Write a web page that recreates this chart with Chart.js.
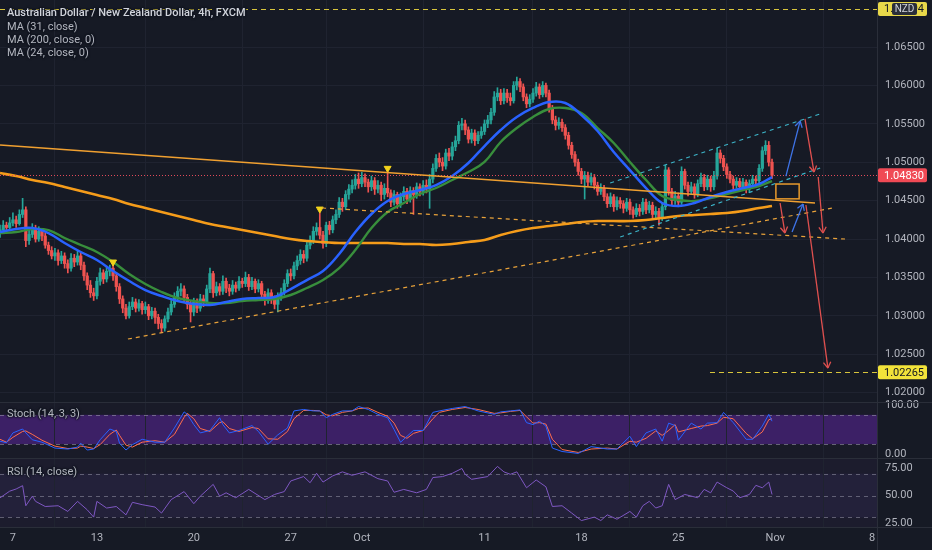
<!DOCTYPE html>
<html><head><meta charset="utf-8">
<script src="https://cdn.jsdelivr.net/npm/chart.js@4.4.1/dist/chart.umd.min.js"></script>
<style>
html,body{margin:0;padding:0;background:#161a25;overflow:hidden}
#wrap{position:relative;width:932px;height:550px}
canvas{position:absolute;left:0;top:0}
.lg{position:absolute;left:7px;font-family:Roboto,"DejaVu Sans",sans-serif;font-size:11px;color:#b2b5be;white-space:nowrap;line-height:13px;
text-shadow:0 0 2px #161a25,0 0 2px #161a25,0 0 3px #161a25,1px 0 1px #161a25,-1px 0 1px #161a25}
</style></head><body>
<div id="wrap"><canvas id="c" width="932" height="550"></canvas>
<div class="lg" style="top:6px;color:#d1d4dc;font-weight:500">Australian Dollar / New Zealand Dollar, 4h, FXCM</div>
<div class="lg" style="top:20px">MA (31, close)</div>
<div class="lg" style="top:33px">MA (200, close, 0)</div>
<div class="lg" style="top:46px">MA (24, close, 0)</div>
<div class="lg" style="top:407px">Stoch (14, 3, 3)</div>
<div class="lg" style="top:465px">RSI (14, close)</div>
</div>
<script>
// ---------- DATA ----------
const firstOpen = 1.0408;
const closes = [
1.0412,1.0418,1.0415,1.0421,1.0425,1.0420,1.0432,1.0438,1.0398,1.0406,
1.0414,1.0400,1.0410,1.0404,1.0392,1.0385,1.0378,1.0382,1.0372,1.0378,
1.0368,1.0362,1.0375,1.0370,1.0378,1.0366,1.0352,1.0340,1.0330,1.0326,
1.0345,1.0356,1.0348,1.0358,1.0362,1.0352,1.0338,1.0322,1.0310,1.0300,
1.0312,1.0318,1.0310,1.0316,1.0308,1.0312,1.0300,1.0306,1.0298,1.0290,
1.0284,1.0296,1.0305,1.0315,1.0325,1.0332,1.0335,1.0324,1.0315,1.0305,
1.0318,1.0310,1.0322,1.0318,1.0335,1.0355,1.0330,1.0338,1.0332,1.0345,
1.0336,1.0332,1.0340,1.0336,1.0345,1.0342,1.0350,1.0338,1.0345,1.0335,
1.0342,1.0328,1.0320,1.0330,1.0322,1.0315,1.0325,1.0330,1.0342,1.0355,
1.0352,1.0365,1.0372,1.0380,1.0375,1.0392,1.0398,1.0410,1.0415,1.0405,
1.0394,1.0418,1.0412,1.0425,1.0432,1.0448,1.0442,1.0458,1.0465,1.0470,
1.0478,1.0472,1.0480,1.0474,1.0468,1.0476,1.0465,1.0470,1.0458,1.0466,
1.0460,1.0448,1.0458,1.0446,1.0455,1.0462,1.0452,1.0463,1.0458,1.0468,
1.0462,1.0470,1.0465,1.0478,1.0492,1.0505,1.0500,1.0495,1.0512,1.0508,
1.0520,1.0528,1.0548,1.0550,1.0542,1.0530,1.0538,1.0528,1.0535,1.0540,
1.0550,1.0555,1.0565,1.0585,1.0590,1.0580,1.0590,1.0584,1.0580,1.0600,
1.0605,1.0598,1.0585,1.0576,1.0582,1.0590,1.0598,1.0588,1.0600,1.0590,
1.0570,1.0555,1.0548,1.0552,1.0545,1.0535,1.0522,1.0510,1.0500,1.0488,
1.0478,1.0483,1.0474,1.0480,1.0470,1.0462,1.0466,1.0455,1.0446,1.0455,
1.0442,1.0450,1.0446,1.0440,1.0448,1.0438,1.0432,1.0440,1.0436,1.0448,
1.0438,1.0444,1.0432,1.0436,1.0428,1.0442,1.0490,1.0462,1.0450,1.0456,
1.0448,1.0488,1.0470,1.0462,1.0468,1.0458,1.0472,1.0480,1.0468,1.0478,
1.0468,1.0482,1.0512,1.0505,1.0494,1.0484,1.0478,1.0470,1.0475,1.0468,
1.0474,1.0465,1.0472,1.0478,1.0476,1.0492,1.0515,1.0522,1.0500,1.0483];
const highs = [
1.0418,1.0424,1.0422,1.0428,1.0434,1.0430,1.0438,1.0453,1.0442,1.0414,
1.0420,1.0418,1.0416,1.0413,1.0408,1.0396,1.0390,1.0388,1.0386,1.0384,
1.0382,1.0373,1.0381,1.0380,1.0384,1.0382,1.0370,1.0356,1.0346,1.0336,
1.0350,1.0362,1.0360,1.0363,1.0366,1.0368,1.0356,1.0342,1.0326,1.0315,
1.0318,1.0324,1.0322,1.0321,1.0319,1.0318,1.0315,1.0311,1.0310,1.0302,
1.0295,1.0300,1.0310,1.0320,1.0330,1.0338,1.0342,1.0339,1.0328,1.0319,
1.0323,1.0322,1.0328,1.0327,1.0340,1.0362,1.0358,1.0344,1.0342,1.0352,
1.0349,1.0341,1.0346,1.0344,1.0351,1.0349,1.0357,1.0354,1.0350,1.0348,
1.0347,1.0345,1.0332,1.0335,1.0334,1.0326,1.0330,1.0336,1.0347,1.0360,
1.0361,1.0370,1.0378,1.0386,1.0385,1.0398,1.0404,1.0416,1.0421,1.0434,
1.0410,1.0422,1.0423,1.0430,1.0438,1.0454,1.0453,1.0463,1.0471,1.0477,
1.0484,1.0486,1.0487,1.0485,1.0478,1.0482,1.0480,1.0476,1.0474,1.0472,
1.0489,1.0464,1.0463,1.0461,1.0460,1.0468,1.0466,1.0468,1.0467,1.0473,
1.0472,1.0476,1.0477,1.0484,1.0498,1.0510,1.0512,1.0506,1.0517,1.0518,
1.0526,1.0534,1.0553,1.0557,1.0555,1.0546,1.0543,1.0542,1.0540,1.0546,
1.0555,1.0561,1.0570,1.0592,1.0597,1.0595,1.0596,1.0595,1.0590,1.0605,
1.0611,1.0609,1.0602,1.0589,1.0588,1.0596,1.0604,1.0602,1.0605,1.0603,
1.0594,1.0574,1.0560,1.0558,1.0556,1.0549,1.0539,1.0526,1.0514,1.0504,
1.0492,1.0488,1.0487,1.0486,1.0484,1.0474,1.0472,1.0470,1.0459,1.0460,
1.0458,1.0455,1.0454,1.0450,1.0453,1.0452,1.0442,1.0446,1.0445,1.0453,
1.0452,1.0449,1.0448,1.0442,1.0440,1.0447,1.0496,1.0493,1.0466,1.0462,
1.0460,1.0494,1.0491,1.0474,1.0474,1.0472,1.0477,1.0486,1.0484,1.0483,
1.0482,1.0488,1.0518,1.0516,1.0509,1.0498,1.0488,1.0482,1.0480,1.0479,
1.0479,1.0477,1.0477,1.0483,1.0482,1.0497,1.0520,1.0528,1.0527,1.0504];
const lows = [
1.0402,1.0409,1.0410,1.0412,1.0417,1.0415,1.0418,1.0428,1.0390,1.0393,
1.0402,1.0396,1.0397,1.0398,1.0388,1.0380,1.0374,1.0372,1.0366,1.0368,
1.0362,1.0356,1.0358,1.0364,1.0366,1.0360,1.0346,1.0334,1.0324,1.0320,
1.0322,1.0340,1.0342,1.0344,1.0352,1.0346,1.0332,1.0316,1.0304,1.0296,
1.0297,1.0308,1.0305,1.0306,1.0302,1.0303,1.0295,1.0296,1.0290,1.0283,
1.0278,1.0280,1.0292,1.0301,1.0311,1.0320,1.0326,1.0318,1.0309,1.0292,
1.0300,1.0304,1.0306,1.0312,1.0314,1.0330,1.0324,1.0326,1.0327,1.0328,
1.0330,1.0326,1.0328,1.0331,1.0333,1.0337,1.0338,1.0333,1.0334,1.0330,
1.0331,1.0322,1.0314,1.0316,1.0316,1.0309,1.0305,1.0320,1.0327,1.0338,
1.0346,1.0348,1.0360,1.0367,1.0369,1.0371,1.0387,1.0394,1.0405,1.0400,
1.0388,1.0390,1.0406,1.0408,1.0420,1.0428,1.0436,1.0438,1.0452,1.0460,
1.0465,1.0466,1.0468,1.0468,1.0461,1.0463,1.0458,1.0460,1.0450,1.0452,
1.0455,1.0442,1.0444,1.0440,1.0441,1.0450,1.0446,1.0448,1.0432,1.0453,
1.0456,1.0457,1.0460,1.0440,1.0473,1.0488,1.0494,1.0489,1.0491,1.0502,
1.0503,1.0515,1.0524,1.0542,1.0536,1.0525,1.0525,1.0522,1.0524,1.0531,
1.0536,1.0545,1.0550,1.0561,1.0580,1.0575,1.0576,1.0578,1.0574,1.0577,
1.0594,1.0592,1.0580,1.0571,1.0572,1.0578,1.0586,1.0583,1.0585,1.0585,
1.0565,1.0550,1.0542,1.0543,1.0540,1.0530,1.0517,1.0505,1.0495,1.0483,
1.0472,1.0452,1.0469,1.0470,1.0465,1.0457,1.0458,1.0450,1.0441,1.0442,
1.0436,1.0438,1.0440,1.0434,1.0436,1.0432,1.0427,1.0429,1.0430,1.0432,
1.0433,1.0434,1.0427,1.0426,1.0418,1.0424,1.0438,1.0457,1.0444,1.0445,
1.0442,1.0445,1.0465,1.0456,1.0458,1.0453,1.0455,1.0468,1.0463,1.0464,
1.0462,1.0464,1.0478,1.0499,1.0489,1.0479,1.0473,1.0465,1.0466,1.0463,
1.0464,1.0460,1.0461,1.0468,1.0470,1.0472,1.0488,1.0510,1.0495,1.0479];

const maIdx = [0,5,10,15,20,25,30,35,40,45,50,55,60,65,70,75,80,85,90,95,100,105,110,115,120,125,130,135,140,145,150,155,160,165,170,175,180,185,190,195,200,205,210,215,220,225,230,235,239];
const ma24 = [1.04091,1.04130,1.04143,1.04078,1.03948,1.03831,1.03727,1.03583,1.03453,1.03336,1.03258,1.03193,1.03154,1.03141,1.03180,1.03219,1.03232,1.03245,1.03349,1.03466,1.03583,1.03805,1.04091,1.04326,1.04495,1.04586,1.04638,1.04703,1.04820,1.04990,1.05211,1.05419,1.05589,1.05706,1.05784,1.05771,1.05615,1.05406,1.05133,1.04898,1.04664,1.04469,1.04430,1.04469,1.04547,1.04612,1.04664,1.04716,1.04807];
const ma31 = [1.04078,1.04091,1.04130,1.04117,1.04013,1.03922,1.03831,1.03701,1.03544,1.03414,1.03310,1.03232,1.03193,1.03167,1.03167,1.03193,1.03206,1.03219,1.03271,1.03362,1.03466,1.03622,1.03857,1.04143,1.04352,1.04469,1.04586,1.04664,1.04768,1.04872,1.05003,1.05263,1.05445,1.05589,1.05693,1.05706,1.05641,1.05445,1.05250,1.05003,1.04768,1.04560,1.04508,1.04495,1.04534,1.04586,1.04638,1.04690,1.04755];
const ma200 = [1.04859,1.04820,1.04768,1.04729,1.04677,1.04625,1.04573,1.04521,1.04456,1.04404,1.04352,1.04299,1.04247,1.04195,1.04156,1.04117,1.04078,1.04039,1.04000,1.03974,1.03961,1.03948,1.03948,1.03948,1.03948,1.03935,1.03935,1.03922,1.03935,1.03961,1.03987,1.04052,1.04104,1.04143,1.04169,1.04195,1.04221,1.04234,1.04234,1.04234,1.04247,1.04273,1.04299,1.04313,1.04326,1.04339,1.04365,1.04404,1.04430];

const stochIdx = [0,2,4,7,8,10,13,17,21,24,25,27,29,31,34,36,37,39,41,44,48,51,54,57,58,60,62,65,68,69,71,74,78,80,83,86,89,91,94,97,99,101,103,106,109,111,114,117,120,122,124,126,128,131,134,136,140,144,148,153,155,158,161,163,165,167,169,171,174,179,183,188,191,195,197,200,203,205,207,209,210,214,217,219,222,224,227,231,233,236,238,239];
const stochK = [26,23,43,51,43,29,24,12,10,14,22,8,10,29,51,46,22,8,19,30,24,24,53,86,81,60,43,48,74,60,43,48,58,46,20,39,53,88,91,88,88,74,81,88,88,97,91,81,74,50,24,36,48,48,85,88,93,97,88,81,86,88,90,64,60,67,57,12,5,1,15,10,10,36,15,43,51,26,63,58,28,63,51,63,64,85,64,30,30,57,81,67];
const stochD = [30,24,34,46,47,40,28,16,11,12,16,14,11,19,40,49,38,18,14,24,27,24,40,75,83,72,52,46,64,66,52,46,54,52,31,30,46,72,89,89,88,80,78,85,88,93,94,85,77,63,38,32,42,48,72,85,91,95,91,83,84,87,89,76,63,64,61,30,9,3,10,12,10,26,24,32,47,38,48,60,45,52,57,58,63,75,72,42,31,45,70,72];

const rsiIdx = [0,3,5,7,8,10,11,14,18,21,24,27,29,30,33,36,39,41,44,48,50,53,57,60,62,66,68,70,73,77,82,85,88,90,94,96,98,100,103,106,109,113,117,120,122,125,129,132,134,137,140,143,144,146,151,154,156,158,160,163,166,169,171,174,177,180,184,186,188,191,195,197,199,201,203,205,207,209,212,216,218,220,222,225,227,229,232,234,236,238,239];
const rsiVals = [47.9,54,56,59,40.7,49.4,44.7,40,40.7,35.5,44.7,37,30.3,44.7,38.6,40,32.4,43.8,41.7,39.5,34,46.3,53.6,42.6,49.4,60.2,49.4,52.5,48,55.6,46.3,51,53.6,63.3,67.3,61.7,70.3,62.3,67.9,71.6,68.5,71.6,65.4,63.3,53,55.6,52.5,55.6,66.4,67.3,70.3,74.7,69.4,64.8,67.3,76.6,71.6,69.4,71.6,57.1,64.2,58,40,40.7,34,27.2,30.3,27.2,32.4,28.4,35.5,30.3,40.7,44.7,38.6,40.7,60.2,46.3,51,48,55.6,52.5,62.3,57.1,54.1,48,51,59.3,57.1,62.3,51];

const tickIdx = [4,30,60,90,112,150,180,210,240,270];
const tickLabels = ['7','13','20','27','Oct','11','18','25','Nov','8'];
const priceTicks = [1.020,1.025,1.030,1.035,1.040,1.045,1.050,1.055,1.060,1.065];
const stochTicks = [0,50,100];
const rsiTicks = [25,50,75];
const stochLevels = [80,20];
const rsiLevels = [70,50,30];

const triIdx = [35,99,120];
const triVals = [1.0370,1.0439,1.0492];

const lastPrice = 1.04830;
const topLevel = 1.06994;
const targetLevel = 1.02265;
const targetStartIdx = 219.8;
// drawings: [idx1, price1, idx2, price2]
const trendSolid = [0,1.05224,252.3,1.04469];
const trendDashA = [39.6,1.02698,257.9,1.04404];
const trendDashB = [99.7,1.04404,261.6,1.04000];
const channelUp = [188.9,1.04729,253.9,1.05628];
const channelLo = [192,1.04026,253.9,1.04924];
const zoneBox = [240.2,1.04716,247.4,1.04523];
const blueArrows = [[243.3,1.04820,247.7,1.05536],[245.2,1.04091,248.6,1.04456]];
const redArrows = [[249.2,1.05563,252,1.04872],[253.3,1.04807,254.8,1.04078],[249.5,1.04443,256.3,1.02320],[241.5,1.04469,243,1.04078]];

// ---------- CHART ----------
const opens = closes.map((c,i)=> i===0 ? firstOpen : closes[i-1]);
const UP='#26a69a', DN='#ef5350';
const candleCol = closes.map((c,i)=> c>=opens[i] ? UP : DN);
Chart.defaults.font.family = 'Roboto, "DejaVu Sans", sans-serif';

function seg(ctx,x1,y1,x2,y2,color,w,dash){
  ctx.beginPath(); ctx.setLineDash(dash||[]); ctx.strokeStyle=color; ctx.lineWidth=w;
  ctx.moveTo(x1,y1); ctx.lineTo(x2,y2); ctx.stroke(); ctx.setLineDash([]);
}
function arrow(ctx,x1,y1,x2,y2,color){
  seg(ctx,x1,y1,x2,y2,color,1.3);
  const a=Math.atan2(y2-y1,x2-x1);
  for(const s of [-1,1]){
    const b=a+Math.PI+s*0.55;
    seg(ctx,x2,y2,x2+7*Math.cos(b),y2+7*Math.sin(b),color,1.3);
  }
}
function tag(ctx,y,bg,fg,text){
  ctx.fillStyle=bg; ctx.beginPath(); ctx.roundRect(878,y-7,49,14,2); ctx.fill();
  ctx.fillStyle=fg; ctx.font='11px Roboto, "DejaVu Sans", sans-serif'; ctx.textAlign='left'; ctx.textBaseline='middle';
  ctx.fillText(text,884,y+0.5);
}

const panes = {
  id:'panes',
  beforeDraw(chart){
    const {ctx, chartArea:ca, scales} = chart;
    const yS=scales.yS, yR=scales.yR;
    ctx.save();
    ctx.fillStyle='#161a25'; ctx.fillRect(0,0,chart.width,chart.height);
    ctx.fillStyle='#191b28'; ctx.fillRect(ca.left,yS.top,ca.right-ca.left,yS.bottom-yS.top);
    const t=yS.getPixelForValue(stochLevels[0]), b=yS.getPixelForValue(stochLevels[1]);
    ctx.fillStyle='#3c2066'; ctx.fillRect(ca.left,t,ca.right-ca.left,b-t);
    ctx.fillStyle='#1c1c2d'; ctx.fillRect(ca.left,yR.top,ca.right-ca.left,yR.bottom-yR.top);
    const t2=yR.getPixelForValue(rsiLevels[0]), b2=yR.getPixelForValue(rsiLevels[2]);
    ctx.fillStyle='#23213a'; ctx.fillRect(ca.left,t2,ca.right-ca.left,b2-t2);
    ctx.restore();
  },
  beforeDatasetsDraw(chart){
    const {ctx, chartArea:ca, scales} = chart;
    const yS=scales.yS, yR=scales.yR;
    ctx.save();
    for(const v of stochLevels){const y=Math.round(yS.getPixelForValue(v))+0.5; seg(ctx,ca.left,y,ca.right,y,'rgba(160,160,175,0.55)',1,[4,4]);}
    for(const v of rsiLevels){const y=Math.round(yR.getPixelForValue(v))+0.5; seg(ctx,ca.left,y,ca.right,y,'rgba(160,160,175,0.5)',1,[4,4]);}
    ctx.restore();
  },
  afterDatasetsDraw(chart){
    const {ctx, chartArea:ca, scales} = chart;
    const xs=scales.x, ys=scales.y;
    const X=v=>xs.getPixelForValue(v), Y=v=>ys.getPixelForValue(v);
    ctx.save();
    ctx.beginPath(); ctx.rect(ca.left,ys.top,ca.right-ca.left,ys.bottom-ys.top); ctx.clip();
    let y=Math.round(Y(topLevel))+0.5; seg(ctx,ca.left,y,ca.right,y,'#d8c53c',1,[5,4]);
    y=Math.round(Y(targetLevel))+0.5; seg(ctx,X(targetStartIdx),y,ca.right,y,'#d8c53c',1,[5,4]);
    y=Math.round(Y(lastPrice))+0.5; seg(ctx,ca.left,y,ca.right,y,'#e04a5a',1,[1,2]);
    const L=(d,c,w,dash)=>seg(ctx,X(d[0]),Y(d[1]),X(d[2]),Y(d[3]),c,w,dash);
    L(trendSolid,'#f0a030',1.5);
    L(trendDashA,'#e8a23a',1.2,[4,4]);
    L(trendDashB,'#e8a23a',1.2,[4,4]);
    L(channelUp,'#3cb4c8',1.2,[4,4]);
    L(channelLo,'#3cb4c8',1.2,[4,4]);
    ctx.strokeStyle='#e89a2c'; ctx.lineWidth=1.5; ctx.setLineDash([]);
    ctx.strokeRect(X(zoneBox[0]),Y(zoneBox[1]),X(zoneBox[2])-X(zoneBox[0]),Y(zoneBox[3])-Y(zoneBox[1]));
    for(const a of blueArrows) arrow(ctx,X(a[0]),Y(a[1]),X(a[2]),Y(a[3]),'#3f74e8');
    for(const a of redArrows) arrow(ctx,X(a[0]),Y(a[1]),X(a[2]),Y(a[3]),'#e0504f');
    ctx.restore();
  },
  afterDraw(chart){
    const {ctx, chartArea:ca, scales} = chart;
    const ys=scales.y, yS=scales.yS, yR=scales.yR;
    ctx.save();
    seg(ctx,0,Math.round(yS.top)+0.5,chart.width,Math.round(yS.top)+0.5,'#2a2e39',1);
    seg(ctx,0,Math.round(yR.top)+0.5,chart.width,Math.round(yR.top)+0.5,'#2a2e39',1);
    seg(ctx,ca.right+0.5,0,ca.right+0.5,chart.height,'#2a2e39',1);
    seg(ctx,0,ca.bottom+0.5,chart.width,ca.bottom+0.5,'#2a2e39',1);
    const yt=ys.getPixelForValue(topLevel);
    tag(ctx,yt,'#e8d84a','#131722',topLevel.toFixed(5));
    ctx.fillStyle='#2a2e39'; ctx.beginPath(); ctx.roundRect(892,yt-6,25,12,2); ctx.fill();
    ctx.fillStyle='#d1d4dc'; ctx.textAlign='center'; ctx.font='10px Roboto, "DejaVu Sans", sans-serif'; ctx.fillText('NZD',904.5,yt+0.5);
    tag(ctx,ys.getPixelForValue(lastPrice),'#f04a55','#ffffff',lastPrice.toFixed(5));
    tag(ctx,ys.getPixelForValue(targetLevel),'#f2e33a','#131722',targetLevel.toFixed(5));
    ctx.restore();
  }
};

const fixW = s=>{ s.width=55; s.paddingTop=0; s.paddingBottom=0; };
const tickFont = {size:11, family:'Roboto, "DejaVu Sans", sans-serif'};

new Chart(document.getElementById('c'), {
  type:'bar',
  data:{ datasets:[
    {type:'line', label:'MA24', data: maIdx.map((x,k)=>({x, y:ma24[k]})), borderColor:'#2962ff', borderWidth:2.5, pointRadius:0, tension:0.4, yAxisID:'y', order:0},
    {type:'line', label:'MA31', data: maIdx.map((x,k)=>({x, y:ma31[k]})), borderColor:'#388e3c', borderWidth:2.4, pointRadius:0, tension:0.4, yAxisID:'y', order:1},
    {type:'line', label:'MA200', data: maIdx.map((x,k)=>({x, y:ma200[k]})), borderColor:'#f59c1a', borderWidth:2.6, pointRadius:0, tension:0.4, yAxisID:'y', order:2},
    {type:'scatter', label:'marks', data: triIdx.map((x,k)=>({x, y:triVals[k]})), pointStyle:'triangle', rotation:180, pointRadius:4, backgroundColor:'#f2d31b', borderColor:'#f2d31b', yAxisID:'y', order:0},
    {type:'bar', label:'body', data: closes.map((c,i)=>({x:i, y:[opens[i], c]})), backgroundColor:candleCol, barThickness:2.6, minBarLength:1, grouped:false, yAxisID:'y', order:3},
    {type:'bar', label:'wick', data: closes.map((c,i)=>({x:i, y:[lows[i], highs[i]]})), backgroundColor:candleCol, barThickness:1, grouped:false, yAxisID:'y', order:4},
    {type:'line', label:'%K', data: stochIdx.map((x,k)=>({x, y:stochK[k]})), borderColor:'#2962ff', borderWidth:1, pointRadius:0, tension:0, yAxisID:'yS', order:0},
    {type:'line', label:'%D', data: stochIdx.map((x,k)=>({x, y:stochD[k]})), borderColor:'#ff6d4d', borderWidth:1, pointRadius:0, tension:0, yAxisID:'yS', order:1},
    {type:'line', label:'RSI', data: rsiIdx.map((x,k)=>({x, y:rsiVals[k]})), borderColor:'#7e57c2', borderWidth:1, pointRadius:0, tension:0, yAxisID:'yR', order:0}
  ]},
  options:{
    responsive:false, animation:false, events:[],
    layout:{padding:0, autoPadding:false},
    plugins:{legend:{display:false}, tooltip:{enabled:false}},
    scales:{
      x:{type:'linear', min:0, max:271.5, offset:false,
         afterBuildTicks:s=>{ s.ticks = tickIdx.map(v=>({value:v})); },
         afterFit:s=>{ s.height=23; s.paddingLeft=0; s.paddingRight=0; },
         ticks:{color:'#b2b5be', font:tickFont, padding:5, maxRotation:0, autoSkip:false,
                callback:v=>{ const k=tickIdx.indexOf(v); return k>=0 ? tickLabels[k] : ''; }},
         grid:{color:'#1f2330', drawTicks:false}, border:{display:false}},
      y:{position:'right', stack:'p', stackWeight:402, min:1.01878, max:1.07112,
         afterBuildTicks:s=>{ s.ticks = priceTicks.map(v=>({value:v})); }, afterFit:fixW,
         ticks:{color:'#b2b5be', font:tickFont, padding:8, callback:v=>Number(v).toFixed(5)},
         grid:{color:'#1f2330', drawTicks:false}, border:{display:false}},
      yS:{position:'right', stack:'p', stackWeight:56, min:-8.33, max:106.25,
         afterBuildTicks:s=>{ s.ticks = stochTicks.map(v=>({value:v})); }, afterFit:fixW,
         ticks:{color:'#b2b5be', font:tickFont, padding:8, callback:v=>Number(v).toFixed(2)},
         grid:{display:false, drawTicks:false}, border:{display:false}},
      yR:{position:'right', stack:'p', stackWeight:69, min:21.3, max:84.26,
         afterBuildTicks:s=>{ s.ticks = rsiTicks.map(v=>({value:v})); }, afterFit:fixW,
         ticks:{color:'#b2b5be', font:tickFont, padding:8, callback:v=>Number(v).toFixed(2)},
         grid:{display:false, drawTicks:false}, border:{display:false}}
    }
  },
  plugins:[panes]
});
</script>
</body></html>
